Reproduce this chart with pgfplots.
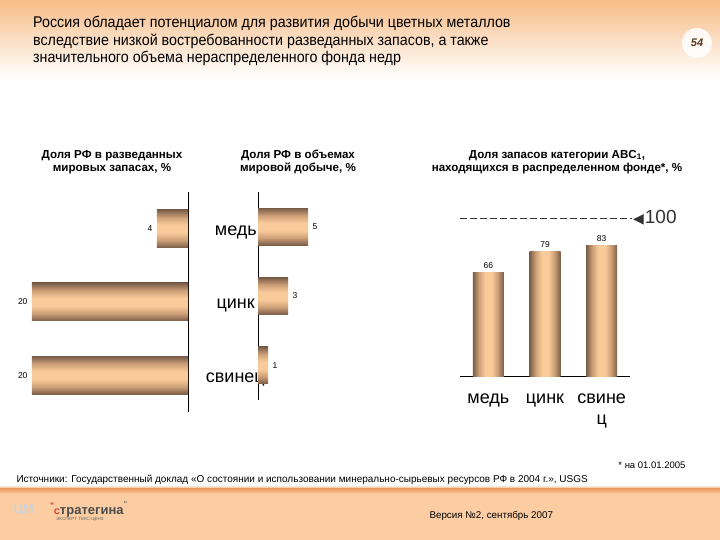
\documentclass[border=0pt]{standalone}
\usepackage{pgfplots}
\pgfplotsset{compat=1.18}
\usepackage{fontspec}
\setmainfont{Liberation Sans}
\newfontfamily\narrowfont[FakeStretch=0.92]{Liberation Sans}
\newfontfamily\symfont{DejaVu Sans}

\definecolor{barlight}{RGB}{250,203,154}
\definecolor{barmid}{RGB}{205,160,120}
\definecolor{bardark}{RGB}{122,92,72}
\definecolor{peach}{RGB}{252,205,162}
\definecolor{headorange}{RGB}{247,188,135}
\definecolor{footline}{RGB}{238,160,105}
\definecolor{pagebrown}{RGB}{95,55,25}
\definecolor{logored}{RGB}{215,35,30}

% dark rims, lighter middle
\pgfdeclareverticalshading{barshade}{100bp}{%
  color(0bp)=(bardark); color(25bp)=(bardark); color(35bp)=(barmid);
  color(45bp)=(barlight); color(55bp)=(barlight); color(65bp)=(barmid);
  color(75bp)=(bardark); color(100bp)=(bardark)}

\pgfplotsset{
  panel/.style={
    scale only axis, clip=false,
    major tick length=0,
    /pgf/number format/assume math mode=true,
  },
  plainline/.style={axis line style={-, black, line width=1pt}},
  % one plot per bar, so that each bar gets its own shading
  hbar/.style={xbar, bar shift=0pt, draw=none,
    shade, shading=barshade, nodes near coords},
  vbar/.style={ybar, bar shift=0pt, bar width=31pt, draw=none,
    shade, shading=barshade, shading angle=90,
    nodes near coords,
    nodes near coords style={font=\fontsize{8.5}{10}\selectfont}},
}

\begin{document}
\begin{tikzpicture}
\path[use as bounding box] (0,0) rectangle (720pt,540pt);
\fill[white] (0,0) rectangle (720pt,540pt);
% header gradient
\shade[top color=headorange, bottom color=white] (0,540pt) rectangle (720pt,462pt);
% footer band
\fill[peach] (0,0) rectangle (720pt,47pt);
\shade[top color=white, bottom color=footline] (0,55pt) rectangle (720pt,51pt);
\shade[top color=footline, bottom color=peach] (0,51pt) rectangle (720pt,46pt);

% title
\node[anchor=north west, align=left, inner sep=0,
      font=\narrowfont\fontsize{15.5}{17.5}\selectfont] at (33pt,524pt)
  {Россия обладает потенциалом для развития добычи цветных металлов\\
   вследствие низкой востребованности разведанных запасов, а также\\
   значительного объема нераспределенного фонда недр};

% page number
\fill[white, opacity=0.85] (697pt,497pt) circle (15pt);
\node[font=\bfseries\itshape\fontsize{11}{12}\selectfont, text=pagebrown] at (697pt,497pt) {54};

% panel titles
\node[align=center, font=\bfseries\fontsize{11.6}{13.5}\selectfont] at (112pt,378pt)
  {Доля РФ в разведанных\\мировых запасах, \%};
\node[align=center, font=\bfseries\fontsize{11.6}{13.5}\selectfont] at (298pt,378pt)
  {Доля РФ в объемах\\мировой добыче, \%};
\node[align=center, font=\bfseries\fontsize{11.6}{13.5}\selectfont] at (557pt,378pt)
  {Доля запасов категории ABC\textsubscript{1},\\находящихся в распределенном фонде*, \%};

% left panel: share of explored world reserves
\begin{axis}[panel,
  at={(32pt,128pt)}, anchor=south west,
  width=156pt, height=220pt,
  xmin=0, xmax=20, x dir=reverse,
  ymin=-0.5, ymax=2.5, y dir=reverse,
  axis x line=none, axis y line=right, plainline,
  ytick=\empty,
  every axis plot/.append style={bar width=38pt,
    nodes near coords style={anchor=east, xshift=-1pt, font=\fontsize{8.5}{10}\selectfont}},
]
\addplot[hbar] coordinates {(4,0)};
\addplot[hbar] coordinates {(20,1)};
\addplot[hbar] coordinates {(20,2)};
\end{axis}

% middle panel: share of world production
\begin{axis}[panel,
  at={(258pt,140pt)}, anchor=south west,
  width=100pt, height=208pt,
  xmin=0, xmax=10,
  ymin=-0.5, ymax=2.5, y dir=reverse,
  axis x line=none, axis y line=left, plainline,
  ytick={0,1,2},
  yticklabels={\smash{\raisebox{-9pt}{медь}},
               \smash{\raisebox{-12.5pt}{цинк}}\hspace*{2pt},
               \smash{\raisebox{-17pt}{свинец}}\hspace*{-8pt}},
  yticklabel style={anchor=east, inner sep=1pt, font=\fontsize{18}{20}\selectfont},
  every axis plot/.append style={bar width=37pt,
    nodes near coords style={anchor=west, xshift=1pt, font=\fontsize{8.5}{10}\selectfont}},
]
\addplot[hbar] coordinates {(5,0)};
\addplot[hbar] coordinates {(3,1)};
\addplot[hbar] coordinates {(1,2)};
\end{axis}

% right panel: share in distributed fund
\begin{axis}[panel,
  at={(460pt,163pt)}, anchor=south west,
  width=170pt, height=159pt,
  xmin=-0.5, xmax=2.5, ymin=0, ymax=100,
  axis y line=none, axis x line=bottom, plainline,
  xtick={0,1,2},
  xticklabels={медь,цинк,{свине\\ц}},
  xticklabel style={anchor=north, align=center, yshift=-13pt,
                    font=\fontsize{18}{21}\selectfont},
]
\addplot[vbar] coordinates {(0,66)};
\addplot[vbar] coordinates {(1,79)};
\addplot[vbar] coordinates {(2,83)};
\addplot[black!80, line width=0.9pt, dash pattern=on 7pt off 3pt]
  coordinates {(-0.5,100) (2.53,100)}
  node[pos=1, anchor=west, inner sep=1pt]
  {{\symfont\fontsize{14}{14}\selectfont ◀}\kern1pt{\fontsize{19}{20}\selectfont 100}};
\end{axis}

% notes
\node[anchor=east, font=\fontsize{9.5}{10}\selectfont] at (689pt,75pt) {* на 01.01.2005};
\node[anchor=west, font=\fontsize{10}{11}\selectfont] at (13pt,60pt)
  {Источники: Государственный доклад «О состоянии и использовании минерально-сырьевых ресурсов РФ в 2004 г.», USGS};
\node[anchor=west, font=\fontsize{9.8}{11}\selectfont] at (426pt,24pt) {Версия №2, сентябрь 2007};

% logo
\node[anchor=west, text=gray!35, font=\bfseries\fontsize{13}{14}\selectfont] at (10pt,30pt) {ЦМ};
\node[anchor=west, inner sep=0, font=\bfseries\fontsize{16}{16}\selectfont] at (50pt,31pt)
  {\textcolor{logored}{\fontsize{8}{8}\selectfont\raisebox{6pt}{"}С}\textcolor{black!70}{\fontsize{13}{14}\selectfont тратегина}\textcolor{black!60}{\fontsize{7}{7}\selectfont\raisebox{8pt}{"}}};
\node[anchor=west, inner sep=0, text=black!60, font=\fontsize{4.5}{5}\selectfont] at (56pt,21pt) {ЭКСПЕРТ ТЕКС-ЦЕНЗ};
\end{tikzpicture}
\end{document}
